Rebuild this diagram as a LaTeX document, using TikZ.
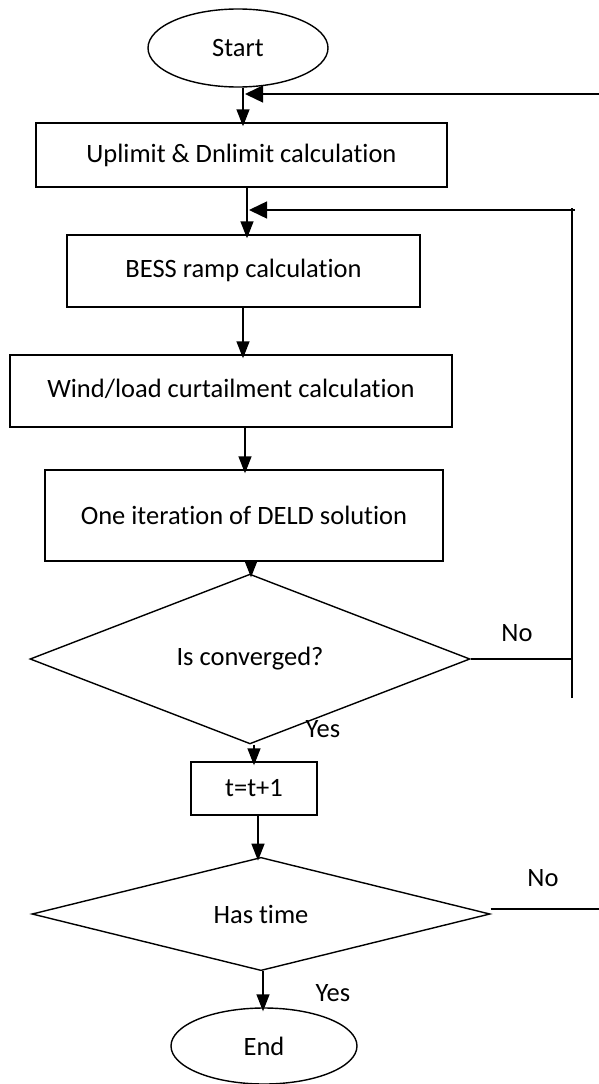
\documentclass[tikz,border=0pt]{standalone}
\usepackage{fontspec}
\setmainfont{Carlito}[Ligatures=CommonOff]
\usetikzlibrary{shapes.geometric,arrows.meta}
\begin{document}
\begin{tikzpicture}[x=1pt,y=-1pt,
  every node/.style={font=\fontsize{26.5}{31}\selectfont, inner sep=0pt, line width=1.4pt},
  proc/.style={draw, rectangle},
  term/.style={draw, ellipse},
  dec/.style={draw, diamond},
  link/.style={line width=1.4pt},
  arr/.style={link, shorten >=-4pt, -{Triangle[length=17pt,width=13pt]}},
  larr/.style={link, -{Triangle[length=18pt,width=17pt]}},
]
\fill[white] (0,0) rectangle (599,1084);
\useasboundingbox (0,0) rectangle (599,1084);

% nodes
\node[term, minimum width=180pt, minimum height=78pt] (start) at (238,48) {Start};
\node[proc, minimum width=411pt, minimum height=64pt] (b1) at (241.5,155) {Uplimit \& Dnlimit calculation};
\node[proc, minimum width=353pt, minimum height=72pt] (b2) at (243.5,271) {\raisebox{5pt}{BESS ramp calculation}};
\node[proc, minimum width=442pt, minimum height=72pt] (b3) at (231,391) {\raisebox{5pt}{Wind/load curtailment calculation}};
\node[proc, minimum width=398pt, minimum height=91pt] (b4) at (244,515.5) {One iteration of DELD solution};
\node[dec, minimum width=440pt, minimum height=111pt] (d1) at (250,659) {Is converged?};
\node[proc, minimum width=126pt, minimum height=53pt] (b5) at (254,788.5) {t=t+1};
\node[dec, minimum width=458pt, minimum height=112pt] (d2) at (261,914) {Has time};
\node[term, minimum width=186pt, minimum height=76pt] (end) at (264,1046) {End};

% labels
\node (no1) at (517,633) {No};
\node (yes1) at (323,729) {Yes};
\node (no2) at (543,878) {No};
\node (yes2) at (333,993) {Yes};

% main flow
\draw[arr] (start.south -| 243,0) -- (b1.north -| 243,0);
\draw[arr] (b1.south -| 247,0) -- (b2.north -| 247,0);
\draw[arr] (b2.south -| 243,0) -- (b3.north -| 243,0);
\draw[arr] (b3.south -| 245,0) -- (b4.north -| 245,0);
\draw[arr] (b4.south -| 251,0) -- (d1.north -| 251,0);
\draw[arr] (d1.south -| 254,0) -- (b5.north -| 254,0);
\draw[arr] (b5.south -| 258,0) -- (d2.north -| 258,0);
\draw[arr] (d2.south -| 263,0) -- (end.north -| 263,0);

% feedback 1 (top)
\coordinate (r1) at (599,94);
\coordinate (j1) at (245,94);
\draw[larr] (r1) -- (j1);

% feedback 2 (convergence loop)
\coordinate (c1) at (572,659);
\coordinate (c1b) at (572,698);
\coordinate (c1t) at (572,208);
\coordinate (c1r) at (575,210);
\coordinate (j2) at (249,210);
\draw[link] (d1.east) -- (c1);
\draw[link] (c1b) -- (c1t);
\draw[larr] (c1r) -- (j2);

% time loop exit
\coordinate (r2) at (599,909);
\draw[link] (d2.east |- r2) -- (r2);
\end{tikzpicture}
\end{document}
